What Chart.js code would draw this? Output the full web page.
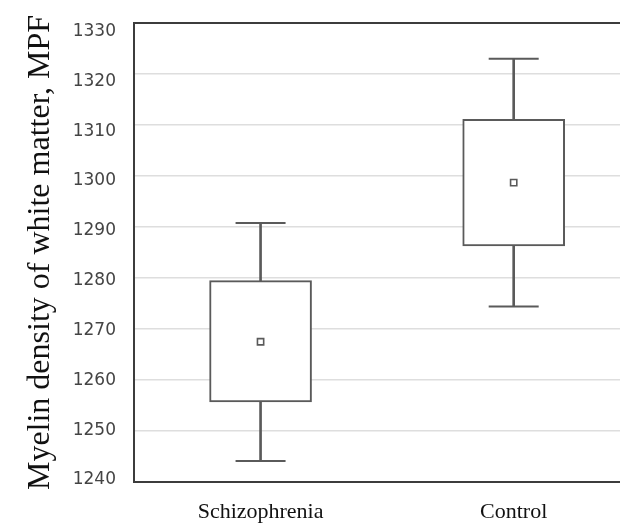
<!DOCTYPE html>
<html>
<head>
<meta charset="utf-8">
<script src="https://cdn.jsdelivr.net/npm/chart.js@4/dist/chart.umd.min.js"></script>
<style>
    html, body { margin: 0; padding: 0; background: #fff; overflow: hidden; }
    #wrap { width: 620px; height: 525px; }
</style>
</head>
<body>
<div id="wrap"><canvas id="box01"></canvas></div>
<script>
// values
const categories = ['Schizophrenia', 'Control'];
const whiskerLow = [1244.1, 1274.4];
const boxLow = [1255.7, 1286.3];
const meanValues = [1267.5, 1298.7];
const boxHigh = [1279.5, 1311.1];
const whiskerHigh = [1290.8, 1323.0];
const yTicks = [1240, 1250, 1260, 1270, 1280, 1290, 1300, 1310, 1320, 1330];

const LINE = '#5a5a5a';
const AXIS = '#3c3c3c';
const GRID = '#dedede';

const toPoints = (vals) => vals.map((v, i) => ({ x: i, y: v }));
const toRanges = (lo, hi) => lo.map((v, i) => ({ x: i, y: [v, hi[i]] }));

const ctx = document.getElementById('box01').getContext('2d');

const data = {
    datasets: [
        {
            // whisker stem, drawn under the box
            type: 'bar',
            label: 'whisker',
            data: toRanges(whiskerLow, whiskerHigh),
            backgroundColor: LINE,
            borderWidth: 0,
            barThickness: 2,
            grouped: false,
            order: 3,
        },
        {
            type: 'bar',
            label: 'box',
            data: toRanges(boxLow, boxHigh),
            backgroundColor: '#ffffff',
            borderColor: LINE,
            borderWidth: 2,
            borderSkipped: false,
            barThickness: 102,
            grouped: false,
            order: 2,
        },
        {
            type: 'line',
            label: 'capLow',
            data: toPoints(whiskerLow),
            showLine: false,
            pointStyle: 'line',
            pointRadius: 25,
            pointBorderWidth: 2,
            pointBorderColor: LINE,
            order: 1,
        },
        {
            type: 'line',
            label: 'capHigh',
            data: toPoints(whiskerHigh),
            showLine: false,
            pointStyle: 'line',
            pointRadius: 25,
            pointBorderWidth: 2,
            pointBorderColor: LINE,
            order: 1,
        },
        {
            type: 'line',
            label: 'mean',
            data: toPoints(meanValues),
            showLine: false,
            pointStyle: 'rect',
            pointRadius: 4.4,
            pointBorderWidth: 1.6,
            pointBorderColor: LINE,
            pointBackgroundColor: '#ffffff',
            order: 0,
        },
    ],
};

const noPad = (scaleInstance) => {
    scaleInstance.paddingTop = 0;
    scaleInstance.paddingBottom = 0;
    scaleInstance.paddingLeft = 0;
    scaleInstance.paddingRight = 0;
};

const config = {
    type: 'bar',
    data,
    options: {
        responsive: true,
        maintainAspectRatio: false,
        animation: false,
        events: [],
        layout: {
            autoPadding: false,
            padding: { top: 0, right: 0, bottom: 0, left: 0 },
        },
        plugins: {
            legend: { display: false },
            tooltip: { enabled: false },
        },
        scales: {
            x: {
                type: 'linear',
                position: 'bottom',
                offset: false,
                min: -0.5,
                max: 1.42,
                afterBuildTicks(axis) {
                    axis.ticks = categories.map((c, i) => ({ value: i }));
                },
                afterFit(scaleInstance) {
                    scaleInstance.height = 43;
                    noPad(scaleInstance);
                },
                grid: { display: false, drawTicks: false, offset: false },
                border: { display: true, color: AXIS, width: 2 },
                ticks: {
                    padding: 17,
                    color: '#111111',
                    maxRotation: 0,
                    minRotation: 0,
                    font: { family: 'Liberation Serif', size: 22 },
                    callback(value) {
                        return categories[value];
                    },
                },
            },
            xTop: {
                type: 'linear',
                position: 'top',
                offset: false,
                min: -0.5,
                max: 1.42,
                afterFit(scaleInstance) {
                    scaleInstance.height = 23;
                    noPad(scaleInstance);
                },
                grid: { display: false, drawTicks: false },
                border: { display: true, color: AXIS, width: 2 },
                ticks: { display: false },
            },
            y: {
                type: 'linear',
                position: 'left',
                min: 1240,
                max: 1330,
                afterBuildTicks(axis) {
                    axis.ticks = yTicks.map(v => ({ value: v }));
                },
                afterFit(scaleInstance) {
                    scaleInstance.width = 0;
                    noPad(scaleInstance);
                },
                grid: {
                    color: GRID,
                    lineWidth: 1.5,
                    drawTicks: false,
                },
                border: { display: true, color: AXIS, width: 2 },
                ticks: { display: false },
            },
            // tick labels sit a little off the grid lines in the source picture
            yLabels: {
                type: 'linear',
                position: 'left',
                min: 1239.6,
                max: 1331.7,
                afterBuildTicks(axis) {
                    axis.ticks = yTicks.map(v => ({ value: v }));
                },
                afterFit(scaleInstance) {
                    scaleInstance.width = 134;
                    noPad(scaleInstance);
                },
                grid: { display: false, drawTicks: false },
                border: { display: false },
                ticks: {
                    padding: 18,
                    color: '#444444',
                    font: { family: 'DejaVu Sans', size: 17 },
                    callback(value) {
                        return String(value);
                    },
                },
                title: {
                    display: true,
                    text: 'Myelin density of white matter, MPF',
                    color: '#111111',
                    padding: { top: 21, bottom: 0 },
                    font: { family: 'Liberation Serif', size: 32 },
                },
            },
        },
    },
};

const chart = new Chart(ctx, config);
</script>
</body>
</html>
